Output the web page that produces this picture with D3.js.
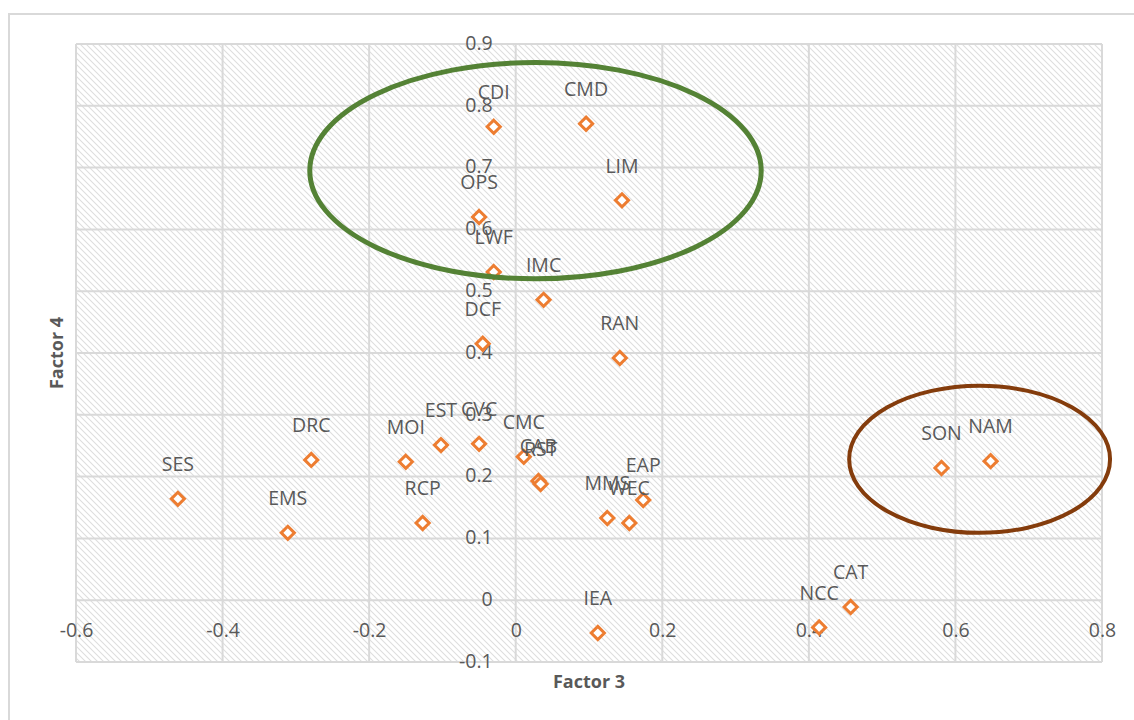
<!DOCTYPE html>
<html>
<head>
<meta charset="utf-8">
<script src="https://cdn.jsdelivr.net/npm/d3@7"></script>
<style>
  body { margin: 0; background: #fff; }
  text { font-family: "Open Sans", sans-serif; fill: #595959; }
</style>
</head>
<body>
<div id="chart"></div>
<script>
// item codes and their loadings (Factor 3 on x, Factor 4 on y)
var codes = ["CDI", "CMD", "LIM", "OPS", "LWF", "IMC", "DCF", "RAN", "EST", "CVC", "CMC", "CAB", "RST",
             "DRC", "MOI", "SES", "EMS", "RCP", "MMS", "WEC", "EAP", "IEA", "NCC", "CAT", "SON", "NAM"];
var factor3 = [-0.030, 0.096, 0.145, -0.050, -0.030, 0.038, -0.045, 0.142, -0.102, -0.050, 0.011, 0.031, 0.034,
               -0.279, -0.150, -0.461, -0.311, -0.127, 0.125, 0.155, 0.174, 0.112, 0.414, 0.457, 0.581, 0.648];
var factor4 = [0.766, 0.771, 0.647, 0.620, 0.531, 0.486, 0.415, 0.392, 0.251, 0.253, 0.232, 0.193, 0.188,
               0.227, 0.224, 0.164, 0.109, 0.125, 0.133, 0.125, 0.162, -0.053, -0.044, -0.011, 0.214, 0.225];

var xTicks = [-0.6, -0.4, -0.2, 0, 0.2, 0.4, 0.6, 0.8];
var yTicks = [-0.1, 0, 0.1, 0.2, 0.3, 0.4, 0.5, 0.6, 0.7, 0.8, 0.9];

// highlight ellipses: centre (f3, f4) and radii in data units
var groupNames = ["top", "right"];
var groupCx = [0.027, 0.633];
var groupCy = [0.695, 0.228];
var groupRx = [0.308, 0.178];
var groupRy = [0.175, 0.119];
var groupColors = ["#548235", "#843C0C"];

var width = 1134, height = 720;
var svg = d3.select("#chart").append("svg").attr("width", width).attr("height", height);

// outer chart frame
svg.append("rect").attr("x", 9).attr("y", 14).attr("width", 1140).attr("height", 720)
    .attr("fill", "none").attr("stroke", "#d9d9d9").attr("stroke-width", 2);

var plot = { left: 76, right: 1102, top: 44, bottom: 662 };

var x = d3.scaleLinear().domain([-0.6, 0.8]).range([plot.left, plot.right]);
var y = d3.scaleLinear().domain([-0.1, 0.9]).range([plot.bottom, plot.top]);

var defs = svg.append("defs");
var pat = defs.append("pattern").attr("id", "hatch")
    .attr("patternUnits", "userSpaceOnUse").attr("width", 6).attr("height", 6);
pat.append("path").attr("d", "M0,0 L6,6 M-1,5 L1,7 M5,-1 L7,1")
    .attr("stroke", "#dedede").attr("stroke-width", 1.1);

svg.append("rect").attr("x", plot.left).attr("y", plot.top)
    .attr("width", plot.right - plot.left).attr("height", plot.bottom - plot.top)
    .attr("fill", "url(#hatch)");

var grid = svg.append("g");
grid.selectAll(".vg").data(xTicks).enter().append("line")
    .attr("x1", function (d) { return x(d); }).attr("x2", function (d) { return x(d); })
    .attr("y1", plot.top).attr("y2", plot.bottom)
    .attr("stroke", "#d9d9d9").attr("stroke-width", 2);
grid.selectAll(".hg").data(yTicks).enter().append("line")
    .attr("y1", function (d) { return y(d); }).attr("y2", function (d) { return y(d); })
    .attr("x1", plot.left).attr("x2", plot.right)
    .attr("stroke", "#d9d9d9").attr("stroke-width", 2);

// axes cross at zero, no axis line drawn (Excel style), plain hyphen for minus
var fmt = function (d) { return d === 0 ? "0" : String(+d.toFixed(1)); };

var xAxis = svg.append("g").attr("transform", "translate(0," + y(0) + ")")
    .call(d3.axisBottom(x).tickValues(xTicks).tickSize(0).tickPadding(0).tickFormat(fmt));
xAxis.select(".domain").remove();
xAxis.selectAll("text").attr("font-size", 19.5).attr("fill", "#595959")
    .attr("font-family", "Open Sans").attr("dy", "0").attr("y", 32).attr("dominant-baseline", "middle");

var yAxis = svg.append("g").attr("transform", "translate(" + x(0) + ",0)")
    .call(d3.axisLeft(y).tickValues(yTicks).tickSize(0).tickPadding(23).tickFormat(fmt));
yAxis.select(".domain").remove();
yAxis.selectAll("text").attr("font-size", 19.5).attr("fill", "#595959")
    .attr("font-family", "Open Sans").attr("dy", "0").attr("dominant-baseline", "middle");

var points = codes.map(function (c, i) { return { code: c, f3: factor3[i], f4: factor4[i] }; });

var diamond = d3.symbol().type(d3.symbolDiamond2).size(110);
svg.append("g").selectAll("path").data(points).enter().append("path")
    .attr("d", diamond)
    .attr("transform", function (d) { return "translate(" + x(d.f3) + "," + y(d.f4) + ")"; })
    .attr("fill", "#fff").attr("stroke", "#ED7D31").attr("stroke-width", 3);

svg.append("g").selectAll("text").data(points).enter().append("text")
    .attr("x", function (d) { return x(d.f3); })
    .attr("y", function (d) { return y(d.f4) - 33; })
    .attr("text-anchor", "middle").attr("dominant-baseline", "middle")
    .attr("font-size", 19.5)
    .text(function (d) { return d.code; });

// axis titles
svg.append("text").attr("x", (plot.left + plot.right) / 2).attr("y", 683)
    .attr("text-anchor", "middle").attr("dominant-baseline", "middle")
    .attr("font-size", 18).attr("font-weight", "bold").text("Factor 3");
svg.append("text").attr("transform", "translate(58," + 353 + ") rotate(-90)")
    .attr("text-anchor", "middle").attr("dominant-baseline", "middle")
    .attr("font-size", 18).attr("font-weight", "bold").text("Factor 4");

// highlight ellipses
svg.append("g").selectAll("ellipse").data(groupNames).enter().append("ellipse")
    .attr("cx", function (d, i) { return x(groupCx[i]); })
    .attr("cy", function (d, i) { return y(groupCy[i]); })
    .attr("rx", function (d, i) { return x(groupRx[i]) - x(0); })
    .attr("ry", function (d, i) { return y(0) - y(groupRy[i]); })
    .attr("fill", "none")
    .attr("stroke", function (d, i) { return groupColors[i]; })
    .attr("stroke-width", function (d, i) { return i === 0 ? 5 : 4; });
</script>
</body>
</html>
